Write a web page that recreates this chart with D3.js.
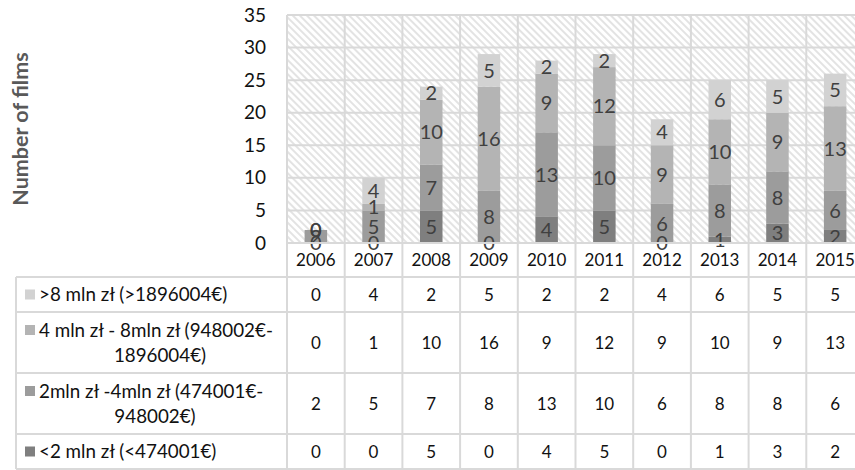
<!DOCTYPE html>
<html>
<head>
<meta charset="utf-8">
<script src="https://cdn.jsdelivr.net/npm/d3@7"></script>
<style>
  html, body { margin: 0; padding: 0; background: #fff; }
  svg { display: block; font-family: Lato, "Open Sans", sans-serif; }
</style>
</head>
<body>
<svg id="chart" width="855" height="470"></svg>
<script>
// Years on the category axis
const years = ["2006", "2007", "2008", "2009", "2010", "2011", "2012", "2013", "2014", "2015"];

// Budget classes, bottom of the stack first
const seriesNames = [
  "<2 mln zł (<474001€)",
  "2mln zł -4mln zł (474001€-948002€)",
  "4 mln zł - 8mln zł (948002€-1896004€)",
  ">8 mln zł (>1896004€)"
];
const under2 = [0, 0, 5, 0, 4, 5, 0, 1, 3, 2];
const from2to4 = [2, 5, 7, 8, 13, 10, 6, 8, 8, 6];
const from4to8 = [0, 1, 10, 16, 9, 12, 9, 10, 9, 13];
const over8 = [0, 4, 2, 5, 2, 2, 4, 6, 5, 5];
const seriesValues = [under2, from2to4, from4to8, over8];

// Labels in the data table, as wrapped lines
const rowLabelLines = {
  ">8 mln zł (>1896004€)": [">8 mln zł (>1896004€)"],
  "4 mln zł - 8mln zł (948002€-1896004€)": ["4 mln zł - 8mln zł (948002€-", "1896004€)"],
  "2mln zł -4mln zł (474001€-948002€)": ["2mln zł -4mln zł (474001€-", "948002€)"],
  "<2 mln zł (<474001€)": ["<2 mln zł (<474001€)"]
};

const yTicks = [0, 5, 10, 15, 20, 25, 30, 35];
const seriesColors = ["#7f7f7f", "#9c9c9c", "#b4b4b4", "#d2d2d2"];

const svg = d3.select("#chart");
const gridColor = "#d9d9d9";

// Plot geometry
const plotLeft = 287, plotRight = 864, plotTop = 15, plotBottom = 243;

const x = d3.scaleBand().domain(years).range([plotLeft, plotRight]).paddingInner(0).paddingOuter(0);
const y = d3.scaleLinear().domain([0, 35]).range([plotBottom, plotTop]);

// Diagonal hatch fill for the plot background
const defs = svg.append("defs");
const pat = defs.append("pattern")
  .attr("id", "hatch")
  .attr("patternUnits", "userSpaceOnUse")
  .attr("width", 5).attr("height", 5)
  .attr("patternTransform", "rotate(-45)");
pat.append("line")
  .attr("x1", 1).attr("y1", 0).attr("x2", 1).attr("y2", 5)
  .attr("stroke", "#dcdcdc").attr("stroke-width", 1.6);

svg.append("rect")
  .attr("x", plotLeft).attr("y", plotTop)
  .attr("width", plotRight - plotLeft).attr("height", plotBottom - plotTop)
  .attr("fill", "url(#hatch)");

// Horizontal gridlines
svg.append("g").selectAll("line").data(yTicks).join("line")
  .attr("x1", plotLeft).attr("x2", plotRight)
  .attr("y1", d => y(d)).attr("y2", d => y(d))
  .attr("stroke", gridColor).attr("stroke-width", 2);

// Vertical category dividers through the plot and the table
const boundaries = years.map(yr => x(yr)).concat([x(years[years.length - 1]) + x.bandwidth()]);
const tableTop = 277, tableBottom = 469;
const rowEdges = [277, 312, 373, 434, 469];

svg.append("g").selectAll("line").data(boundaries).join("line")
  .attr("x1", d => d).attr("x2", d => d)
  .attr("y1", plotTop).attr("y2", tableBottom)
  .attr("stroke", gridColor).attr("stroke-width", 2);

// Y axis tick labels
const yAxis = d3.axisLeft(y).tickValues(yTicks).tickSize(0).tickPadding(0);
const yg = svg.append("g").attr("transform", "translate(266,0)").call(yAxis);
yg.select(".domain").remove();
yg.selectAll("text")
  .attr("font-family", "Lato, 'Open Sans', sans-serif")
  .attr("font-size", 19).attr("fill", "#111");

// Y axis title
svg.append("text")
  .attr("transform", "translate(28,129) rotate(-90)")
  .attr("text-anchor", "middle")
  .attr("font-size", 21.5).attr("font-weight", "bold").attr("fill", "#595959")
  .text("Number of films");

// Stacked bars
const stackData = years.map((yr, i) => {
  const o = { year: yr };
  seriesNames.forEach((s, k) => { o[s] = seriesValues[k][i]; });
  return o;
});
const stacked = d3.stack().keys(seriesNames)(stackData);
const barW = x.bandwidth() * 0.39;

const layers = svg.append("g").selectAll("g").data(stacked).join("g")
  .attr("fill", (d, i) => seriesColors[i]);
layers.selectAll("rect").data(d => d).join("rect")
  .attr("x", d => x(d.data.year) + (x.bandwidth() - barW) / 2)
  .attr("width", barW)
  .attr("y", d => y(d[1]))
  .attr("height", d => y(d[0]) - y(d[1]));

// Value labels centred in each segment
const labels = svg.append("g").selectAll("g").data(stacked).join("g");
labels.selectAll("text").data(d => d.map(v => ({ v, key: d.key }))).join("text")
  .attr("x", d => x(d.v.data.year) + x.bandwidth() / 2)
  .attr("y", d => y((d.v[0] + d.v[1]) / 2))
  .attr("dy", "0.36em")
  .attr("text-anchor", "middle")
  .attr("font-size", 20).attr("fill", "#404040")
  .text(d => d.v.data[d.key]);

// Axis line under the plot
svg.append("line")
  .attr("x1", plotLeft).attr("x2", plotRight)
  .attr("y1", plotBottom).attr("y2", plotBottom)
  .attr("stroke", gridColor).attr("stroke-width", 2);

// Year labels in the header row
svg.append("g").selectAll("text").data(years).join("text")
  .attr("x", d => x(d) + x.bandwidth() / 2)
  .attr("y", 260).attr("dy", "0.36em")
  .attr("text-anchor", "middle")
  .attr("font-size", 17).attr("fill", "#111")
  .text(d => d);

// Data table: rows from the top series downwards
const tableLeft = 16;
svg.append("g").selectAll("line").data(rowEdges).join("line")
  .attr("x1", tableLeft).attr("x2", plotRight)
  .attr("y1", d => d).attr("y2", d => d)
  .attr("stroke", gridColor).attr("stroke-width", 2);
svg.append("line")
  .attr("x1", tableLeft).attr("x2", tableLeft)
  .attr("y1", tableTop).attr("y2", tableBottom)
  .attr("stroke", gridColor).attr("stroke-width", 2);

const rowOrder = [3, 2, 1, 0];
const lineGap = 25;
// Centre x for wrapped second lines
const wrapCentre = [0, 160, 155, 0];

rowOrder.forEach((k, r) => {
  const top = rowEdges[r], bottom = rowEdges[r + 1];
  const cy = (top + bottom) / 2;
  const lines = rowLabelLines[seriesNames[k]];
  const firstY = cy - (lines.length - 1) * lineGap / 2;

  svg.append("rect")
    .attr("x", 25).attr("y", firstY - 5)
    .attr("width", 10).attr("height", 10)
    .attr("fill", seriesColors[k]);

  lines.forEach((ln, j) => {
    svg.append("text")
      .attr("x", j === 0 ? 39 : wrapCentre[r])
      .attr("y", firstY + j * lineGap).attr("dy", "0.36em")
      .attr("text-anchor", j === 0 ? "start" : "middle")
      .attr("font-size", 18.8).attr("fill", "#111")
      .text(ln);
  });

  svg.append("g").selectAll("text").data(seriesValues[k]).join("text")
    .attr("x", (d, i) => x(years[i]) + x.bandwidth() / 2)
    .attr("y", cy).attr("dy", "0.36em")
    .attr("text-anchor", "middle")
    .attr("font-size", 17).attr("fill", "#111")
    .text(d => d);
});
</script>
</body>
</html>
